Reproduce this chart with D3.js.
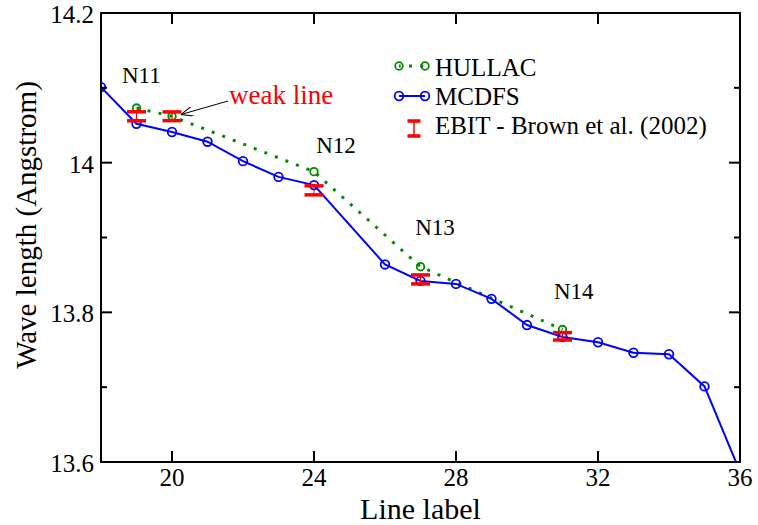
<!DOCTYPE html>
<html>
<head>
<meta charset="utf-8">
<script src="https://cdn.jsdelivr.net/npm/d3@7"></script>
<style>
  body { margin: 0; background: #fff; }
  text { font-family: "Liberation Serif", "Times New Roman", serif; fill: #000; }
</style>
</head>
<body>
<div id="chart"></div>
<script>
// Data
var mcdfsX = [18, 19, 20, 21, 22, 23, 24, 26, 27, 28, 29, 30, 31, 32, 33, 34, 35, 36];
var mcdfsY = [14.101, 14.052, 14.041, 14.028, 14.002, 13.981, 13.970, 13.864, 13.842, 13.838,
              13.818, 13.783, 13.767, 13.760, 13.746, 13.744, 13.701, 13.587];
var hullacX = [19, 20, 24, 27, 31];
var hullacY = [14.073, 14.062, 13.988, 13.861, 13.777];
var ebitX = [19, 20, 24, 27, 31];
var ebitY = [14.062, 14.062, 13.963, 13.844, 13.768];
var ebitErr = [0.006, 0.0058, 0.006, 0.006, 0.005];
var groupLabels = [
  {text: "N11", x: 18.59, y: 14.106},
  {text: "N12", x: 24.06, y: 14.013},
  {text: "N13", x: 26.85, y: 13.903},
  {text: "N14", x: 30.76, y: 13.818}
];
var xTicks = [20, 24, 28, 32, 36];
var yTicks = [13.6, 13.8, 14.0, 14.2];
var yMinor = [13.7, 13.9, 14.1];

// Set svg dimensions
const width = 758;
const height = 525;
var margin = {top: 13, right: 18, bottom: 63, left: 101};
var plotWidth = width - margin.left - margin.right;
var plotHeight = height - margin.top - margin.bottom;

var svg = d3.select("#chart")
            .append("svg")
                .attr("width", width)
                .attr("height", height);

var g = svg.append("g")
            .attr("transform", "translate(" + margin.left + "," + margin.top + ")");

var scaleX = d3.scaleLinear().domain([18, 36]).range([0, plotWidth]);
var scaleY = d3.scaleLinear().domain([13.6, 14.2]).range([plotHeight, 0]);

// clip for data
g.append("clipPath").attr("id", "clip")
  .append("rect").attr("width", plotWidth).attr("height", plotHeight);

var plot = g.append("g").attr("clip-path", "url(#clip)");

var mcdfs = mcdfsX.map(function(x, i) { return {x: x, y: mcdfsY[i]}; });
var hullac = hullacX.map(function(x, i) { return {x: x, y: hullacY[i]}; });
var ebit = ebitX.map(function(x, i) { return {x: x, y: ebitY[i], e: ebitErr[i]}; });

var line = d3.line()
  .x(function(d) { return scaleX(d.x); })
  .y(function(d) { return scaleY(d.y); });

// HULLAC dotted line
plot.append("path")
  .datum(hullac)
  .attr("d", line)
  .attr("fill", "none")
  .attr("stroke", "#008b00")
  .attr("stroke-width", 3)
  .attr("stroke-dasharray", "3,8.3");

// MCDFS line
plot.append("path")
  .datum(mcdfs)
  .attr("d", line)
  .attr("fill", "none")
  .attr("stroke", "#0000ff")
  .attr("stroke-width", 2);

plot.selectAll("circle.mcdfs")
  .data(mcdfs)
  .enter()
  .append("circle")
    .attr("class", "mcdfs")
    .attr("cx", function(d) { return scaleX(d.x); })
    .attr("cy", function(d) { return scaleY(d.y); })
    .attr("r", 4.3)
    .attr("fill", "none")
    .attr("stroke", "#0000ff")
    .attr("stroke-width", 1.8);

plot.selectAll("circle.hullac")
  .data(hullac)
  .enter()
  .append("circle")
    .attr("class", "hullac")
    .attr("cx", function(d) { return scaleX(d.x); })
    .attr("cy", function(d) { return scaleY(d.y); })
    .attr("r", 3.8)
    .attr("fill", "none")
    .attr("stroke", "#008b00")
    .attr("stroke-width", 1.8);

// EBIT error bars
var bars = plot.selectAll("g.ebit")
  .data(ebit)
  .enter()
  .append("g")
    .attr("class", "ebit");

bars.append("line")
  .attr("x1", function(d) { return scaleX(d.x); })
  .attr("x2", function(d) { return scaleX(d.x); })
  .attr("y1", function(d) { return scaleY(d.y + d.e); })
  .attr("y2", function(d) { return scaleY(d.y - d.e); })
  .attr("stroke", "#ff0000")
  .attr("stroke-width", 1);

[1, -1].forEach(function(s) {
  bars.append("line")
    .attr("x1", function(d) { return scaleX(d.x) - 9.5; })
    .attr("x2", function(d) { return scaleX(d.x) + 9.5; })
    .attr("y1", function(d) { return scaleY(d.y + s * d.e); })
    .attr("y2", function(d) { return scaleY(d.y + s * d.e); })
    .attr("stroke", "#ff0000")
    .attr("stroke-width", 3.5);
});

// Frame and ticks
g.append("rect")
  .attr("width", plotWidth)
  .attr("height", plotHeight)
  .attr("fill", "none")
  .attr("stroke", "#000")
  .attr("stroke-width", 2);

var tickG = g.append("g").attr("stroke", "#000").attr("stroke-width", 2);
xTicks.forEach(function(t) {
  tickG.append("line").attr("x1", scaleX(t)).attr("x2", scaleX(t)).attr("y1", plotHeight).attr("y2", plotHeight - 11);
  tickG.append("line").attr("x1", scaleX(t)).attr("x2", scaleX(t)).attr("y1", 0).attr("y2", 11);
});
yTicks.forEach(function(t) {
  tickG.append("line").attr("x1", 0).attr("x2", 11).attr("y1", scaleY(t)).attr("y2", scaleY(t));
  tickG.append("line").attr("x1", plotWidth).attr("x2", plotWidth - 11).attr("y1", scaleY(t)).attr("y2", scaleY(t));
});
yMinor.forEach(function(t) {
  tickG.append("line").attr("x1", 0).attr("x2", 6).attr("y1", scaleY(t)).attr("y2", scaleY(t));
  tickG.append("line").attr("x1", plotWidth).attr("x2", plotWidth - 6).attr("y1", scaleY(t)).attr("y2", scaleY(t));
});

// Tick labels
g.selectAll("text.xtick")
  .data(xTicks)
  .enter()
  .append("text")
    .attr("class", "xtick")
    .attr("x", function(d) { return scaleX(d); })
    .attr("y", plotHeight + 24)
    .attr("text-anchor", "middle")
    .style("font-size", "25px")
    .text(function(d) { return d; });

g.selectAll("text.ytick")
  .data(yTicks)
  .enter()
  .append("text")
    .attr("class", "ytick")
    .attr("x", -7)
    .attr("y", function(d) { return scaleY(d) + 10; })
    .attr("text-anchor", "end")
    .style("font-size", "25px")
    .text(function(d) { return d3.format("")(+d.toFixed(1)); });

// Axis titles
svg.append("text")
  .attr("x", margin.left + plotWidth / 2)
  .attr("y", 519)
  .attr("text-anchor", "middle")
  .style("font-size", "30px")
  .text("Line label");

svg.append("text")
  .attr("transform", "translate(36," + 225 + ") rotate(-90)")
  .attr("text-anchor", "middle")
  .style("font-size", "29px")
  .text("Wave length (Angstrom)");

// Group labels
g.selectAll("text.grp")
  .data(groupLabels)
  .enter()
  .append("text")
    .attr("class", "grp")
    .attr("x", function(d) { return scaleX(d.x); })
    .attr("y", function(d) { return scaleY(d.y); })
    .style("font-size", "23px")
    .text(function(d) { return d.text; });

// weak line annotation
svg.append("defs").append("marker")
  .attr("id", "arrow")
  .attr("viewBox", "0 0 12 10")
  .attr("refX", 12)
  .attr("refY", 5)
  .attr("markerWidth", 12)
  .attr("markerHeight", 10)
  .attr("markerUnits", "userSpaceOnUse")
  .attr("orient", "auto")
  .append("path")
    .attr("d", "M0,0 L12,5 L0,10")
    .attr("fill", "none")
    .attr("stroke", "#000")
    .attr("stroke-width", 1);

svg.append("line")
  .attr("x1", 228).attr("y1", 101)
  .attr("x2", 181).attr("y2", 114.5)
  .attr("stroke", "#000")
  .attr("stroke-width", 1)
  .attr("marker-end", "url(#arrow)");

svg.append("text")
  .attr("x", 229)
  .attr("y", 104)
  .style("font-size", "27px")
  .style("fill", "#ff0000")
  .text("weak line");

// Legend
var legend = svg.append("g");
legend.append("line")
  .attr("x1", 399).attr("x2", 425).attr("y1", 66).attr("y2", 66)
  .attr("stroke", "#008b00").attr("stroke-width", 3).attr("stroke-dasharray", "3,8.3")
  .attr("stroke-dashoffset", -10);
[399, 425].forEach(function(x) {
  legend.append("circle").attr("cx", x).attr("cy", 66).attr("r", 3.8)
    .attr("fill", "none").attr("stroke", "#008b00").attr("stroke-width", 1.8);
});
legend.append("line")
  .attr("x1", 399).attr("x2", 425).attr("y1", 96).attr("y2", 96)
  .attr("stroke", "#0000ff").attr("stroke-width", 2);
[399, 425].forEach(function(x) {
  legend.append("circle").attr("cx", x).attr("cy", 96).attr("r", 4.3)
    .attr("fill", "none").attr("stroke", "#0000ff").attr("stroke-width", 1.8);
});
legend.append("line").attr("x1", 414).attr("x2", 414).attr("y1", 121).attr("y2", 136)
  .attr("stroke", "#ff0000").attr("stroke-width", 1.5);
[121, 136].forEach(function(y) {
  legend.append("line").attr("x1", 407.5).attr("x2", 420.5).attr("y1", y).attr("y2", y)
    .attr("stroke", "#ff0000").attr("stroke-width", 3.5);
});

var legendText = ["HULLAC", "MCDFS", "EBIT - Brown et al. (2002)"];
legend.selectAll("text")
  .data(legendText)
  .enter()
  .append("text")
    .attr("x", 435)
    .attr("y", function(d, i) { return 76 + i * 29; })
    .style("font-size", "25px")
    .text(function(d) { return d; });
</script>
</body>
</html>
